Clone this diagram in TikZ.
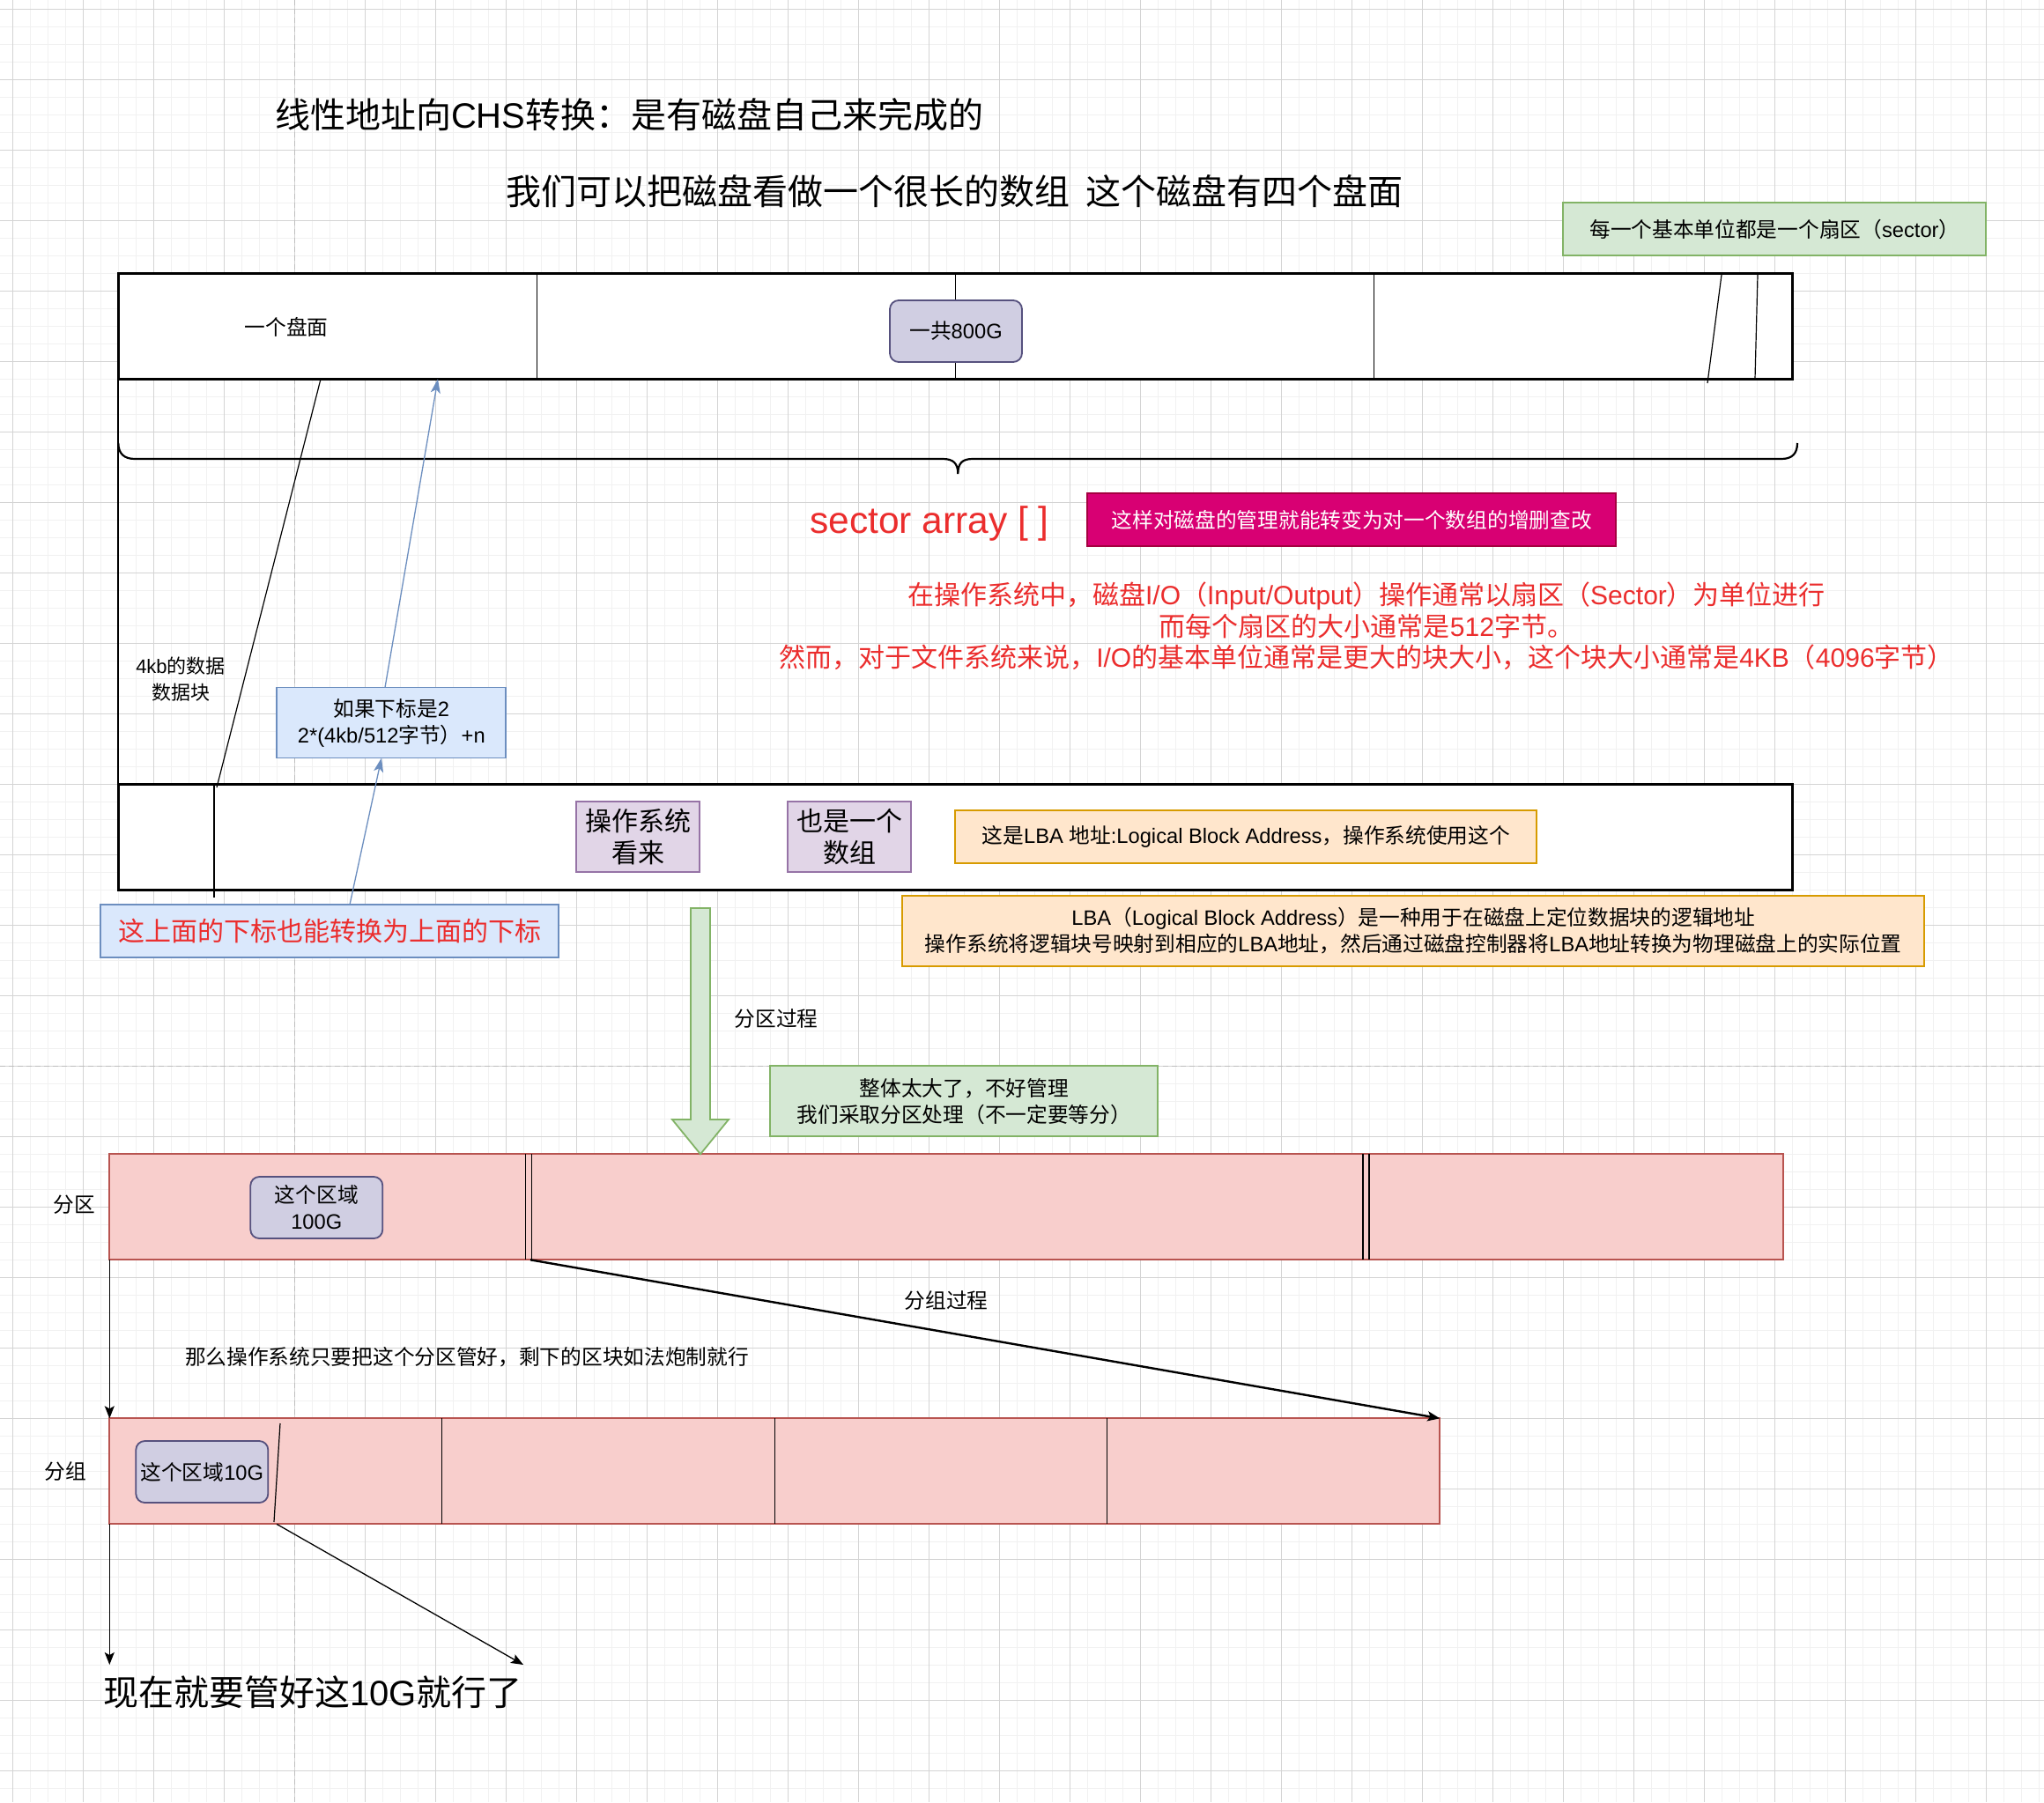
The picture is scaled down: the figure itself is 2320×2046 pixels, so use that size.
\documentclass[tikz,border=0pt]{standalone}
\usepackage{fontspec}
\setmainfont{Noto Sans CJK SC}
\newfontfamily\lat{Liberation Sans}
\usetikzlibrary{arrows.meta}
\newcommand\LT[1]{{\lat #1}}
\newcommand\fs[2]{\fontsize{#1}{#2}\selectfont}
\definecolor{gridminor}{RGB}{241,241,241}
\definecolor{gridmajor}{RGB}{212,212,212}
\definecolor{pagebrk}{RGB}{190,190,190}
\definecolor{redtxt}{RGB}{235,45,45}
\definecolor{blueF}{HTML}{DAE8FC}\definecolor{blueS}{HTML}{6C8EBF}
\definecolor{greenF}{HTML}{D5E8D4}\definecolor{greenS}{HTML}{82B366}
\definecolor{orangeF}{HTML}{FFE6CC}\definecolor{orangeS}{HTML}{D79B00}
\definecolor{purpF}{HTML}{E1D5E7}\definecolor{purpS}{HTML}{9673A6}
\definecolor{lavF}{HTML}{D0CEE2}\definecolor{lavS}{HTML}{56517E}
\definecolor{pinkF}{HTML}{D80073}\definecolor{pinkS}{HTML}{A50040}
\definecolor{redF}{HTML}{F8CECC}\definecolor{redS}{HTML}{B85450}
\begin{document}
\begin{tikzpicture}[x=1pt,y=-1pt,
  box/.style={draw, inner sep=0pt, outer sep=0pt, line width=1.8pt, align=center, anchor=center},
  txt/.style={inner sep=0pt, outer sep=0pt, align=center},
  cell/.style={draw=black, fill=white, inner sep=0pt, outer sep=0pt, line width=1.2pt, minimum width=475pt, minimum height=120pt},
  blk/.style={-{Stealth[length=14pt,width=11pt,inset=3pt]}, line width=1.3pt},
  bluearr/.style={draw=blueS, -{Stealth[length=16pt,width=11pt,inset=4pt]}, line width=1.3pt},
  lbl/.style={txt, font=\fs{23.7}{29}}
]
\useasboundingbox (0,0) rectangle (2320,2046);
\fill[white] (0,0) rectangle (2320,2046);
% grid
\foreach \i in {0,...,115} {\draw[gridminor, line width=1.6pt] ({14.3+20*\i},0) -- ({14.3+20*\i},2046);}
\foreach \j in {0,...,102} {\draw[gridminor, line width=1.6pt] (0,{10.3+20*\j}) -- (2320,{10.3+20*\j});}
\foreach \i in {0,...,28} {\draw[gridmajor, line width=1pt] ({14.3+80*\i},0) -- ({14.3+80*\i},2046);}
\foreach \j in {0,...,25} {\draw[gridmajor, line width=1pt] (0,{10.3+80*\j}) -- (2320,{10.3+80*\j});}
\draw[pagebrk, line width=1.2pt, dash pattern=on 6pt off 4pt] (334.3,0) -- (334.3,2046);
\draw[pagebrk, line width=1.2pt, dash pattern=on 6pt off 4pt] (0,1210.3) -- (2320,1210.3);

% titles
\node[txt, anchor=west, font=\fs{40}{48}] (t1) at (312,130) {线性地址向\LT{CHS}转换：是有磁盘自己来完成的};
\node[txt, anchor=west, font=\fs{40}{48}] (t2) at (574,217) {我们可以把磁盘看做一个很长的数组\hspace{18pt}这个磁盘有四个盘面};
\node[box, fill=greenF, draw=greenS, minimum width=480pt, minimum height=60pt, font=\fs{23.7}{29}] (g1) at (2014.3,260.3) {每一个基本单位都是一个扇区（\LT{sector}）};

% disk
\node[cell] (q1) at (371.8,370.3) {};
\node[cell] (q2) at (846.8,370.3) {};
\node[cell] (q3) at (1321.8,370.3) {};
\node[cell] (q4) at (1796.8,370.3) {};
\draw[line width=2.4pt] (q1.north west) rectangle (q4.south east);
\draw[line width=1.2pt] (1954,312) -- (1938,435);
\draw[line width=1.2pt] (1995,312) -- (1992,430);
\node[lbl] (pm) at (325,371) {一个盘面};
\node[box, fill=lavF, draw=lavS, rounded corners=10pt, minimum width=150pt, minimum height=70pt, font=\fs{23.7}{29}] (tot) at (1085,376) {一共\LT{800G}};

% brace and left line
\draw[line width=2.2pt] (134.3,430.3) -- (134.3,890.3);
\draw[line width=2.2pt] (134.3,503) .. controls (134.3,515) and (141,521) .. (153,521) -- (1070,521) .. controls (1082,521) and (1087.3,526) .. (1087.3,538) .. controls (1087.3,526) and (1092,521) .. (1104,521) -- (2022,521) .. controls (2034,521) and (2040,515) .. (2040,503);

% sector array
\node[txt, text=redtxt, font=\fs{42.5}{50}\lat] (sa) at (1055,594) {sector array [ ]};
\node[box, fill=pinkF, draw=pinkS, text=white, minimum width=600pt, minimum height=60pt, font=\fs{23.7}{29}] (pk) at (1534.3,590.3) {这样对磁盘的管理就能转变为对一个数组的增删查改};
\node[txt, text=redtxt, font=\fs{30}{35.5}] (rb) at (1551,711) {在操作系统中，磁盘\LT{I/O}（\LT{Input/Output}）操作通常以扇区（\LT{Sector}）为单位进行\\而每个扇区的大小通常是\LT{512}字节。\\然而，对于文件系统来说，\LT{I/O}的基本单位通常是更大的块大小，这个块大小通常是\LT{4KB}（\LT{4096}字节）};

\node[txt, font=\fs{22}{30}] (kb) at (205,771) {\LT{4kb}的数据\\数据块};
\node[box, fill=blueF, draw=blueS, minimum width=260pt, minimum height=80pt, font=\fs{23.7}{30}] (ifb) at (444.3,820.5) {如果下标是\LT{2}\\\LT{2*(4kb/512}字节）\LT{+n}};

% lower array
\node[box, fill=white, draw=black, line width=2.4pt, minimum width=1900pt, minimum height=120pt] (arr) at (1084.3,950.3) {};
\draw[line width=1.2pt] (243,890.3) -- (243,1019.3);
\draw[line width=1.2pt] ([xshift=-7.8pt]q1.south) -- (246,894);
\node[box, fill=purpF, draw=purpS, minimum width=140pt, minimum height=80pt, font=\fs{30}{36}] (p1) at (724.3,950.3) {操作系统\\看来};
\node[box, fill=purpF, draw=purpS, minimum width=140pt, minimum height=80pt, font=\fs{30}{36}] (p2) at (964.3,950.3) {也是一个\\数组};
\node[box, fill=orangeF, draw=orangeS, minimum width=660pt, minimum height=60pt, font=\fs{23.7}{29}] (lba1) at (1414.3,950.3) {这是\LT{LBA }地址\LT{:Logical Block Address}，操作系统使用这个};
\node[box, fill=orangeF, draw=orangeS, minimum width=1160pt, minimum height=80pt, font=\fs{23.7}{30}] (lba2) at (1604.3,1057) {\LT{LBA}（\LT{Logical Block Address}）是一种用于在磁盘上定位数据块的逻辑地址\\操作系统将逻辑块号映射到相应的\LT{LBA}地址，然后通过磁盘控制器将\LT{LBA}地址转换为物理磁盘上的实际位置};
\node[box, fill=blueF, draw=blueS, text=redtxt, minimum width=520pt, minimum height=60pt, font=\fs{30}{36}] (bb) at (374.3,1057) {这上面的下标也能转换为上面的下标};

% blue arrows
\draw[bluearr] ([xshift=22.7pt]bb.north) -- ([xshift=-11.3pt]ifb.south);
\draw[bluearr] ([xshift=-7.3pt]ifb.north) -- ([xshift=125.2pt]q1.south);

% partition
\node[box, fill=greenF, draw=greenS, minimum width=440pt, minimum height=80pt, font=\fs{23.7}{30}] (g2) at (1094.3,1250.3) {整体太大了，不好管理\\我们采取分区处理（不一定要等分）};
\node[lbl] (fq) at (881,1157) {分区过程};
\node[box, fill=redF, draw=redS, minimum width=1900pt, minimum height=120pt] (part) at (1074.3,1370.3) {};
\draw[fill=greenF, draw=greenS, line width=1.8pt] (784,1031) -- (806,1031) -- (806,1271) -- (827,1271) -- (part.north -| 795,0) -- (763,1271) -- (784,1271) -- cycle;
\foreach \xx in {596.5,603.5,1547,1554} {\draw[line width=1.2pt] (\xx,1310.3) -- (\xx,1430.3);}
\node[box, fill=lavF, draw=lavS, rounded corners=10pt, minimum width=150pt, minimum height=70pt, font=\fs{23.7}{30}] (r100) at (359.3,1371) {这个区域\\\LT{100G}};
\node[lbl] (lfq) at (84,1368) {分区};

% group
\node[box, fill=redF, draw=redS, minimum width=1510pt, minimum height=120pt] (grp) at (879.3,1670.3) {};
\foreach \xx in {501.8,879.3,1256.8} {\draw[line width=1.2pt] (\xx,1610.3) -- (\xx,1730.3);}
\node[box, fill=lavF, draw=lavS, rounded corners=10pt, minimum width=150pt, minimum height=70pt, font=\fs{23.7}{29}] (r10) at (229.3,1671) {这个区域\LT{10G}};
\draw[line width=1.2pt] (318,1616) -- (311,1728);
\node[lbl] (lfz) at (74,1671) {分组};
\node[lbl] (fz) at (1074,1477) {分组过程};
\node[lbl, anchor=west] (nm) at (210,1541) {那么操作系统只要把这个分区管好，剩下的区块如法炮制就行};

\draw[blk, line width=2.4pt] ([xshift=477.7pt]part.south west) -- (grp.north east);
\draw[blk] (part.south west) -- (grp.north west);

\coordinate (e1) at (124.3,1890);
\coordinate (e2) at (594,1890);
\draw[blk] (grp.south west) -- (e1);
\draw[blk] ([xshift=189.7pt]grp.south west) -- (e2);
\node[txt, anchor=west, font=\fs{40}{48}] (now) at (117,1921) {现在就要管好这\LT{10G}就行了};
\end{tikzpicture}
\end{document}
